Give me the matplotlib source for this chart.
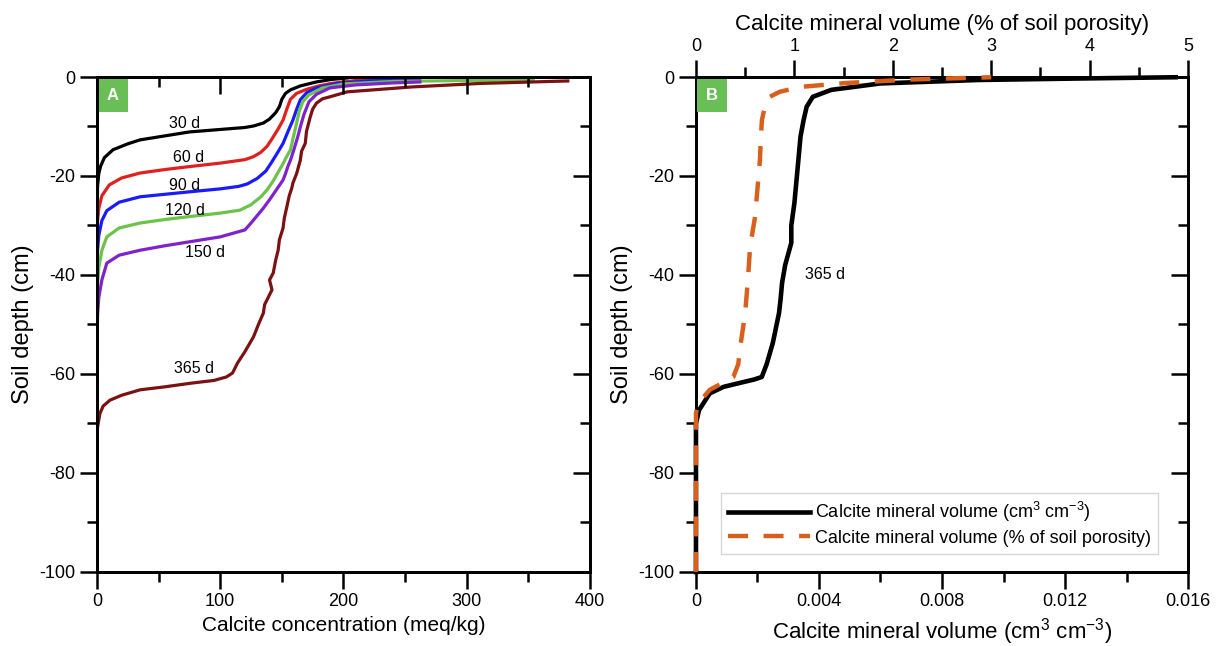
import matplotlib
matplotlib.use('Agg')
import matplotlib.pyplot as plt
from matplotlib.ticker import MultipleLocator

plt.rcParams['font.family'] = ['Liberation Sans', 'DejaVu Sans']
plt.rcParams['mathtext.fontset'] = 'custom'
plt.rcParams['mathtext.rm'] = 'Liberation Sans'
plt.rcParams['mathtext.it'] = 'Liberation Sans:italic'
plt.rcParams['axes.unicode_minus'] = False

# Panel A: calcite concentration (meq/kg) vs soil depth (cm)
conc_30 = [0, 0, 0.5, 1.5, 3, 6, 13, 25, 35, 55, 75, 100, 120, 127, 135, 140, 145, 148, 150, 153, 157, 165, 178, 190, 203]
depth_30 = [-100, -30, -22, -19.5, -18, -16.3, -14.7, -13.5, -12.7, -11.9, -11.1, -10.6, -10.2, -9.9, -9.3, -8.5, -7.2, -6, -4.5, -3.3, -2.6, -1.8, -1.0, -0.5, -0.2]

conc_60 = [0, 0, 0.5, 1.5, 4, 10, 20, 35, 55, 75, 100, 120, 127, 133, 138, 142, 147, 151, 154, 157, 162, 170, 180, 190, 210, 243]
depth_60 = [-100, -36, -29, -26.5, -24, -21.8, -20.4, -19.4, -18.7, -18.1, -17.4, -16.7, -16.1, -15.2, -14, -12.5, -10.5, -8.7, -6.5, -4.5, -3.3, -2.5, -1.8, -1.3, -0.7, -0.3]

conc_90 = [0, 0, 0.5, 1.5, 4, 8, 18, 35, 55, 75, 100, 115, 122, 130, 137, 141, 146, 151, 155, 159, 162, 165, 170, 178, 195, 220, 262]
depth_90 = [-100, -42, -35, -32, -29, -27, -25.3, -24.2, -23.7, -23.2, -22.6, -22.1, -21.6, -20.5, -19, -17.5, -15.5, -13.4, -11, -8.7, -6.5, -4.6, -3.2, -2.2, -1.3, -0.8, -0.5]

conc_120 = [0, 0, 0.5, 1.5, 4, 8, 18, 35, 55, 75, 100, 116, 125, 133, 138, 143, 148, 151, 153, 157, 159, 162, 164, 167, 172, 183, 200, 240, 300, 354]
depth_120 = [-100, -50, -42, -38.5, -35, -32.3, -30.5, -29.5, -28.8, -28.2, -27.5, -26.9, -25.8, -24.2, -22.8, -21, -18.8, -17.5, -16.5, -14.7, -12.5, -9.3, -7, -5, -3.6, -2.2, -1.4, -0.9, -0.7, -0.6]

conc_150 = [0, 0, 0.5, 1.5, 4, 8, 18, 35, 55, 75, 100, 120, 125, 130, 135, 140, 145, 151, 153, 155, 157, 160, 163, 165, 168, 172, 178, 189, 210, 240, 262]
depth_150 = [-100, -55, -48, -44.5, -41, -37.6, -36, -35, -34.1, -33.3, -32.3, -30.9, -29.5, -28, -26.5, -24.8, -23, -20.8, -19.5, -18, -16.8, -14.5, -12, -10.1, -7.5, -5, -3.5, -2.2, -1.6, -1.2, -1.0]

conc_365 = [0, 0, 0.5, 2.4, 5, 10.5, 20, 35, 55, 75, 95, 105, 110, 114, 120, 127, 131, 135, 136, 139, 142, 140, 143, 145, 147, 148, 151, 152, 154, 156, 158, 159, 162, 165, 166, 169, 170, 173, 175, 178, 183, 189, 203, 256, 311, 382]
depth_365 = [-100, -73, -70.7, -68, -66.5, -65.3, -64.3, -63.2, -62.6, -61.9, -61.3, -60.6, -59.8, -57.8, -55.5, -52.5, -50, -47.7, -46, -44.5, -43, -41, -39.6, -37, -35, -32.9, -30.5, -28.5, -26.3, -24, -22.5, -21.4, -19.5, -16.8, -15, -13.4, -11, -8.1, -6.5, -5.3, -4.4, -4.0, -3.0, -2.0, -1.3, -0.8]

day_labels = ['30 d', '60 d', '90 d', '120 d', '150 d', '365 d']
label_x = [71, 74, 71, 71, 88, 79]
label_y = [-9.3, -16.2, -22, -27, -35.5, -58.8]

# Panel B: calcite mineral volume at 365 d
vol_cm3 = [0, 0, 0.0001, 0.00045, 0.0009, 0.00143, 0.0019, 0.00214, 0.0023, 0.0025, 0.0027, 0.00275, 0.0028, 0.0029, 0.0031, 0.0031, 0.0032, 0.0033, 0.0034, 0.0035, 0.0036, 0.0038, 0.0044, 0.006, 0.0092, 0.0125, 0.0156]
depth_cm3 = [-100, -70, -67.3, -63.9, -62.6, -61.8, -61.1, -60.6, -58, -53.7, -47.7, -45, -41.6, -38, -33.5, -30, -25.5, -18.8, -12, -8.7, -6, -4, -2.6, -1.3, -0.6, -0.3, -0.05]

vol_pct = [0, 0, 0.02, 0.14, 0.3, 0.38, 0.43, 0.45, 0.5, 0.53, 0.55, 0.6, 0.63, 0.65, 0.66, 0.67, 0.7, 0.75, 0.85, 1.06, 1.53, 2.2, 3.0]
depth_pct = [-100, -68, -66, -63.2, -61.5, -60.6, -58, -54.5, -47.7, -40.4, -34.3, -28.3, -21.4, -16.8, -12, -8.7, -6, -4, -3, -2, -1.2, -0.5, -0.05]

fig = plt.figure(figsize=(12.18, 6.46), dpi=100)
axA = fig.add_axes([0.0796, 0.1146, 0.4048, 0.7662])
axB = fig.add_axes([0.5714, 0.1146, 0.4040, 0.7662])

spine_w = 1.8
green_box = '#69bf55'

def style_axis(ax):
    for s in ax.spines.values():
        s.set_linewidth(spine_w)
    ax.tick_params(which='major', length=12, width=spine_w, labelsize=13)
    ax.tick_params(which='minor', length=7, width=spine_w)

def inner_ticks_x(ax, major, minor):
    # extra x axis on top with inward ticks and no labels
    tw = ax.twiny()
    tw.set_xlim(ax.get_xlim())
    tw.xaxis.set_major_locator(MultipleLocator(major))
    tw.xaxis.set_minor_locator(MultipleLocator(minor))
    style_axis(tw)
    tw.tick_params(which='both', direction='in', labeltop=False, top=True, bottom=False)
    return tw

def inner_ticks_y(ax, major, minor):
    tw = ax.twinx()
    tw.set_ylim(ax.get_ylim())
    tw.yaxis.set_major_locator(MultipleLocator(major))
    tw.yaxis.set_minor_locator(MultipleLocator(minor))
    style_axis(tw)
    tw.tick_params(which='both', direction='in', labelright=False, right=True, left=False)
    return tw

#Panel A
curves = [(conc_30, depth_30, 'black'), (conc_60, depth_60, '#e0201e'),
          (conc_90, depth_90, '#1a1aff'), (conc_120, depth_120, '#6cc24a'),
          (conc_150, depth_150, '#7f22cc'), (conc_365, depth_365, '#7a1212')]
for x, y, c in curves:
    axA.plot(x, y, color=c, lw=2.3)
for t, x, y in zip(day_labels, label_x, label_y):
    axA.text(x, y, t, fontsize=11.5, ha='center', va='center')

axA.set_xlim(0, 400)
axA.set_ylim(-100, 0)
axA.xaxis.set_major_locator(MultipleLocator(100))
axA.xaxis.set_minor_locator(MultipleLocator(50))
axA.yaxis.set_major_locator(MultipleLocator(20))
axA.yaxis.set_minor_locator(MultipleLocator(10))
style_axis(axA)
axA.tick_params(which='both', direction='out', top=False, right=False)
axA.set_xlabel('Calcite concentration (meq/kg)', fontsize=15, labelpad=4)
axA.set_ylabel('Soil depth (cm)', fontsize=17, labelpad=4)

inner_ticks_x(axA, 100, 50)
inner_ticks_y(axA, 20, 10)

axA.text(0.02, 0.978, 'A', transform=axA.transAxes, ha='left', va='top',
         color='white', fontsize=12, fontweight='bold', zorder=10,
         bbox=dict(boxstyle='square,pad=0.55', fc=green_box, ec='none'))

#Panel B
lineB1, = axB.plot(vol_cm3, depth_cm3, color='black', lw=3.3, clip_on=False, zorder=3,
                   label='Calcite mineral volume (cm$^3$ cm$^{-3}$)')
axB.text(0.0042, -40, '365 d', fontsize=11.5, ha='center', va='center')
axB.set_xlim(0, 0.016)
axB.set_ylim(-100, 0)
axB.xaxis.set_minor_locator(MultipleLocator(0.002))
axB.yaxis.set_major_locator(MultipleLocator(20))
axB.yaxis.set_minor_locator(MultipleLocator(10))
axB.set_xticks([0, 0.004, 0.008, 0.012, 0.016])
axB.set_xticklabels(['0', '0.004', '0.008', '0.012', '0.016'])
style_axis(axB)
axB.tick_params(which='both', direction='out', top=False, right=False)
axB.set_xlabel('Calcite mineral volume (cm$^3$ cm$^{-3}$)', fontsize=16, labelpad=4)
axB.set_ylabel('Soil depth (cm)', fontsize=17, labelpad=4)

inner_ticks_y(axB, 20, 10)

topB = axB.twiny()
lineB2, = topB.plot(vol_pct, depth_pct, color='#d9601c', lw=3.2, ls=(0, (4.5, 3.5)),
                    clip_on=False, zorder=4,
                    label='Calcite mineral volume (% of soil porosity)')
topB.set_xlim(0, 5)
topB.set_ylim(-100, 0)
topB.xaxis.set_major_locator(MultipleLocator(1))
topB.xaxis.set_minor_locator(MultipleLocator(0.5))
style_axis(topB)
topB.tick_params(which='both', direction='out')
topB.set_xlabel('Calcite mineral volume (% of soil porosity)', fontsize=16, labelpad=6)

leg = topB.legend(handles=[lineB1, lineB2], loc='lower right', bbox_to_anchor=(0.958, 0.018),
                  fontsize=13, handlelength=4.5, frameon=True, fancybox=False,
                  borderpad=0.4, labelspacing=0.3, handletextpad=0.3)
leg.get_frame().set_edgecolor('#cccccc')
leg.get_frame().set_linewidth(1.0)

topB.text(0.02, 0.978, 'B', transform=axB.transAxes, ha='left', va='top',
          color='white', fontsize=12, fontweight='bold', zorder=10,
          bbox=dict(boxstyle='square,pad=0.55', fc=green_box, ec='none'))

fig.savefig('out.png', dpi=100)
